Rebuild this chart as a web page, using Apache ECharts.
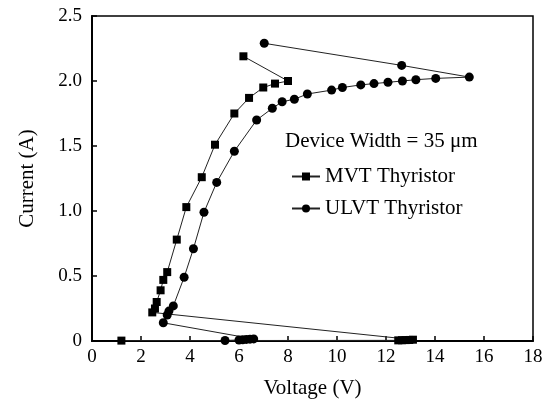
<!DOCTYPE html>
<html>
<head>
<meta charset="utf-8">
<script src="https://cdn.jsdelivr.net/npm/echarts@6/dist/echarts.min.js"></script>
<style>
  html, body { margin: 0; padding: 0; background: #fff; }
  #chart { width: 552px; height: 407px; }
</style>
</head>
<body>
<div id="chart"></div>
<script>
// MVT thyristor TLP curve (voltage V, current A), in measurement order
var mvtV = [1.2, 12.5, 12.65, 12.8, 12.95, 13.1, 2.46, 2.57, 2.64, 2.80, 2.91, 3.07, 3.46, 3.85, 4.48, 5.02, 5.81, 6.41, 6.99, 7.47, 8.0, 6.18]
var mvtI = [0.003, 0.005, 0.006, 0.007, 0.008, 0.01, 0.22, 0.25, 0.30, 0.39, 0.47, 0.53, 0.78, 1.03, 1.26, 1.51, 1.75, 1.87, 1.95, 1.98, 2.0, 2.19]

// ULVT thyristor TLP curve
var ulvtV = [5.43, 6.0, 6.15, 6.3, 6.45, 6.6, 2.91, 3.07, 3.14, 3.32, 3.76, 4.14, 4.57, 5.09, 5.81, 6.72, 7.36, 7.76, 8.26, 8.79, 9.78, 10.22, 10.97, 11.51, 12.08, 12.67, 13.22, 14.03, 15.4, 12.64, 7.03]
var ulvtI = [0.004, 0.008, 0.01, 0.012, 0.014, 0.016, 0.14, 0.20, 0.23, 0.27, 0.49, 0.71, 0.99, 1.22, 1.46, 1.70, 1.79, 1.84, 1.86, 1.90, 1.93, 1.95, 1.97, 1.98, 1.99, 2.0, 2.01, 2.02, 2.03, 2.12, 2.29]

var font = 'Liberation Serif'

function pairs (xs, ys) {
  return xs.map(function (x, i) { return [x, ys[i]] })
}

var chart = echarts.init(document.getElementById('chart'), null, { renderer: 'canvas' })
chart.setOption({
  animation: false,
  textStyle: { fontFamily: font, color: '#000' },
  grid: {
    left: 92,
    right: 19,
    top: 16,
    bottom: 66,
    show: true,
    borderColor: '#000',
    borderWidth: 1.5
  },
  graphic: [{
    type: 'text',
    left: 285,
    top: 131,
    style: { text: 'Device Width = 35 μm', font: '21px "Liberation Serif"', fill: '#000' }
  }],
  legend: {
    orient: 'vertical',
    left: 286,
    top: 161,
    itemWidth: 28,
    itemHeight: 10,
    itemGap: 11,
    textStyle: { fontFamily: font, fontSize: 21, color: '#000' },
    data: ['MVT Thyristor', 'ULVT Thyristor']
  },
  xAxis: {
    type: 'value',
    min: 0,
    max: 18,
    interval: 2,
    name: 'Voltage (V)',
    nameLocation: 'middle',
    nameGap: 37,
    nameTextStyle: { fontFamily: font, fontSize: 21, color: '#000' },
    axisLine: { lineStyle: { color: '#000', width: 2 } },
    axisTick: { inside: true, length: 5, lineStyle: { color: '#000', width: 1.5 } },
    axisLabel: { fontFamily: font, fontSize: 19, color: '#000', margin: 7 },
    splitLine: { show: false }
  },
  yAxis: {
    type: 'value',
    min: 0,
    max: 2.5,
    interval: 0.5,
    name: 'Current (A)',
    nameLocation: 'middle',
    nameGap: 54,
    nameTextStyle: { fontFamily: font, fontSize: 21, color: '#000' },
    axisLine: { show: true, lineStyle: { color: '#000', width: 2 } },
    axisTick: { show: true, inside: true, length: 5, lineStyle: { color: '#000', width: 1.5 } },
    axisLabel: {
      fontFamily: font,
      fontSize: 19,
      color: '#000',
      margin: 10,
      formatter: function (v) { return v === 0 ? '0' : v.toFixed(1) }
    },
    splitLine: { show: false }
  },
  series: [{
    name: 'MVT Thyristor',
    type: 'line',
    data: pairs(mvtV, mvtI),
    symbol: 'rect',
    symbolSize: 8,
    itemStyle: { color: '#000' },
    lineStyle: { color: '#222', width: 1 }
  }, {
    name: 'ULVT Thyristor',
    type: 'line',
    data: pairs(ulvtV, ulvtI),
    symbol: 'circle',
    symbolSize: 9,
    itemStyle: { color: '#000' },
    lineStyle: { color: '#222', width: 1 }
  }]
})
</script>
</body>
</html>
